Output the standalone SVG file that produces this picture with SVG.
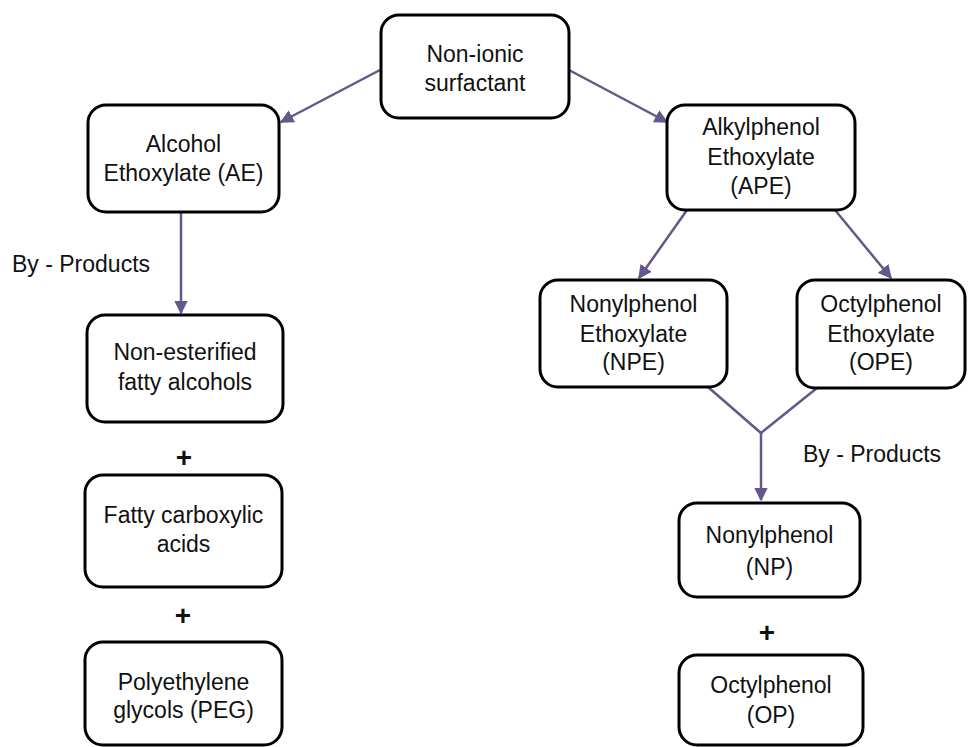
<svg xmlns="http://www.w3.org/2000/svg" width="974" height="747" viewBox="0 0 974 747">
<style>
.box{fill:#fff;stroke:#000;stroke-width:3}
.t{font-family:"Liberation Sans",Arial,sans-serif;font-size:23px;fill:#111;text-anchor:middle}
.l{font-family:"Liberation Sans",Arial,sans-serif;font-size:23px;fill:#111}
.p{font-family:"Liberation Sans",Arial,sans-serif;font-size:28px;font-weight:bold;fill:#111;text-anchor:middle}
.c{fill:none;stroke:#65578a;stroke-width:2.5}
</style>
<defs>
<marker id="ah" viewBox="0 0 10 10" refX="9" refY="5" markerWidth="5.5" markerHeight="5.5" orient="auto" markerUnits="strokeWidth">
<path d="M0,0 L10,5 L0,10 z" fill="#65578a"/>
</marker>
</defs>
<rect width="974" height="747" fill="#fff"/>
<g id="connectors">
<line class="c" x1="380" y1="70" x2="281" y2="122" marker-end="url(#ah)"/>
<line class="c" x1="569" y1="70" x2="667" y2="122" marker-end="url(#ah)"/>
<line class="c" x1="181" y1="212" x2="181" y2="313" marker-end="url(#ah)"/>
<line class="c" x1="687" y1="210" x2="639" y2="278" marker-end="url(#ah)"/>
<line class="c" x1="835" y1="210" x2="891" y2="278" marker-end="url(#ah)"/>
<polyline class="c" points="708,387 761,433 817,388"/>
<line class="c" x1="761" y1="433" x2="761" y2="500" marker-end="url(#ah)"/>
</g>
<g id="n1"><rect class="box" x="381" y="15" width="188" height="103" rx="18"/><text class="t" x="475" y="62">Non-ionic</text><text class="t" x="475" y="91">surfactant</text></g>
<g id="n2"><rect class="box" x="88" y="105" width="191" height="107" rx="18"/><text class="t" x="183.5" y="152">Alcohol</text><text class="t" x="183.5" y="181">Ethoxylate (AE)</text></g>
<g id="n3"><rect class="box" x="667" y="105" width="188" height="105" rx="18"/><text class="t" x="761" y="135">Alkylphenol</text><text class="t" x="761" y="165">Ethoxylate</text><text class="t" x="761" y="194">(APE)</text></g>
<g id="n4"><rect class="box" x="540" y="280" width="187" height="107" rx="18"/><text class="t" x="633.5" y="312">Nonylphenol</text><text class="t" x="633.5" y="342">Ethoxylate</text><text class="t" x="633.5" y="370">(NPE)</text></g>
<g id="n5"><rect class="box" x="797" y="280" width="168" height="108" rx="18"/><text class="t" x="881" y="312">Octylphenol</text><text class="t" x="881" y="342">Ethoxylate</text><text class="t" x="881" y="370">(OPE)</text></g>
<g id="n6"><rect class="box" x="87" y="315" width="196" height="107" rx="18"/><text class="t" x="185" y="360">Non-esterified</text><text class="t" x="185" y="390">fatty alcohols</text></g>
<g id="n7"><rect class="box" x="85" y="475" width="197" height="112" rx="18"/><text class="t" x="183.5" y="523">Fatty carboxylic</text><text class="t" x="183.5" y="552">acids</text></g>
<g id="n8"><rect class="box" x="85" y="642" width="197" height="103" rx="18"/><text class="t" x="183.5" y="690">Polyethylene</text><text class="t" x="183.5" y="718">glycols (PEG)</text></g>
<g id="n9"><rect class="box" x="679" y="503" width="181" height="94" rx="18"/><text class="t" x="769.5" y="543">Nonylphenol</text><text class="t" x="769.5" y="575">(NP)</text></g>
<g id="n10"><rect class="box" x="679" y="655" width="184" height="90" rx="18"/><text class="t" x="771" y="693">Octylphenol</text><text class="t" x="771" y="723">(OP)</text></g>
<g id="labels">
<text class="l" x="12" y="272">By - Products</text>
<text class="l" x="803" y="462">By - Products</text>
<text class="p" x="184" y="467">+</text>
<text class="p" x="183" y="625">+</text>
<text class="p" x="767" y="642">+</text>
</g>
</svg>
